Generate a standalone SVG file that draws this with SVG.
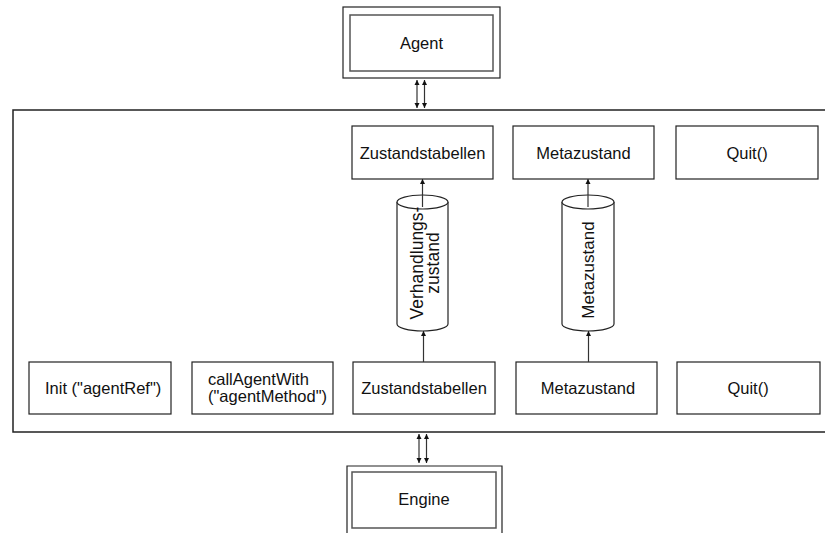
<svg xmlns="http://www.w3.org/2000/svg" width="825" height="533" viewBox="0 0 825 533">
  <defs>
    <marker id="head" viewBox="0 0 10 10" refX="10" refY="5" markerWidth="5" markerHeight="6" orient="auto-start-reverse" markerUnits="userSpaceOnUse">
      <path d="M0,0 L10,5 L0,10 Z" fill="#111"/>
    </marker>
    <style>
      .box { fill: #fff; stroke: #222; stroke-width: 1.2; }
      .inner { fill: #fff; stroke: #555; stroke-width: 1.5; }
      .frame { fill: none; stroke: #222; stroke-width: 1.5; }
      .cyl { fill: #fff; stroke: #222; stroke-width: 1.2; }
      .link { fill: none; stroke: #333; stroke-width: 1.2; }
      .lbl { font-family: "Liberation Sans", Arial, sans-serif; font-size: 16.5px; fill: #111; }
      .mid { text-anchor: middle; }
    </style>
  </defs>
  <rect width="825" height="533" fill="#fff"/>

  <!-- outer frame, open to the right -->
  <path class="frame" d="M826,110 H13 V432 H826"/>

  <g id="agent">
    <rect class="box" x="343" y="7" width="157" height="71"/>
    <rect class="inner" x="350" y="15" width="143" height="56"/>
    <text class="lbl mid" x="421.5" y="49">Agent</text>
  </g>

  <g id="engine">
    <path class="box" d="M347,540 V466 H502 V540"/>
    <rect class="inner" x="352" y="472" width="144" height="56"/>
    <text class="lbl mid" x="424" y="505">Engine</text>
  </g>

  <g id="zustandstabellen-top">
    <rect class="box" x="352" y="126" width="141" height="53"/>
    <text class="lbl mid" x="422.5" y="159">Zustandstabellen</text>
  </g>
  <g id="metazustand-top">
    <rect class="box" x="513" y="126" width="141" height="53"/>
    <text class="lbl mid" x="583.5" y="159">Metazustand</text>
  </g>
  <g id="quit-top">
    <rect class="box" x="676" y="126" width="142" height="53"/>
    <text class="lbl mid" x="747" y="159">Quit()</text>
  </g>

  <g id="verhandlungszustand">
    <path class="cyl" d="M397,202 V324 A25.5,7 0 0 0 448,324 V202"/>
    <ellipse class="cyl" cx="422.5" cy="202" rx="25.5" ry="7"/>
    <text class="lbl mid" style="font-size:17.5px" transform="translate(422,263) rotate(-90)"><tspan x="0" y="1">Verhandlungs-</tspan><tspan x="0" y="16.5">zustand</tspan></text>
  </g>
  <g id="metazustand-store">
    <path class="cyl" d="M562,202 V324 A26,7 0 0 0 614,324 V202"/>
    <ellipse class="cyl" cx="588" cy="202" rx="26" ry="7"/>
    <text class="lbl mid" style="font-size:17px" transform="translate(588,270) rotate(-90)"><tspan x="0" y="5.5">Metazustand</tspan></text>
  </g>

  <g id="init">
    <rect class="box" x="29" y="362" width="142" height="52"/>
    <text class="lbl" x="45" y="394">Init ("agentRef")</text>
  </g>
  <g id="callAgentWith">
    <rect class="box" x="192" y="362" width="141" height="52"/>
    <text class="lbl" x="208"><tspan x="208" y="385">callAgentWith</tspan><tspan x="208" y="402">("agentMethod")</tspan></text>
  </g>
  <g id="zustandstabellen-bottom">
    <rect class="box" x="353" y="362" width="142" height="52"/>
    <text class="lbl mid" x="424" y="394">Zustandstabellen</text>
  </g>
  <g id="metazustand-bottom">
    <rect class="box" x="516" y="362" width="141" height="52"/>
    <text class="lbl mid" x="588" y="394">Metazustand</text>
  </g>
  <g id="quit-bottom">
    <rect class="box" x="677" y="362" width="143" height="52"/>
    <text class="lbl mid" x="748" y="394">Quit()</text>
  </g>

  <g id="connectors">
    <!-- Agent <-> frame -->
    <line class="link" x1="417" y1="80" x2="417" y2="108" marker-start="url(#head)" marker-end="url(#head)"/>
    <line class="link" x1="424.5" y1="80" x2="424.5" y2="108" marker-start="url(#head)" marker-end="url(#head)"/>
    <!-- frame <-> Engine -->
    <line class="link" x1="419" y1="434" x2="419" y2="463" marker-start="url(#head)" marker-end="url(#head)"/>
    <line class="link" x1="426.5" y1="434" x2="426.5" y2="463" marker-start="url(#head)" marker-end="url(#head)"/>
    <!-- state tables -->
    <line class="link" x1="423.5" y1="362" x2="423.5" y2="331" marker-end="url(#head)"/>
    <line class="link" x1="422.5" y1="207" x2="422.5" y2="179" marker-end="url(#head)"/>
    <!-- meta state -->
    <line class="link" x1="588.5" y1="362" x2="588.5" y2="331" marker-end="url(#head)"/>
    <line class="link" x1="588" y1="207" x2="588" y2="179" marker-end="url(#head)"/>
  </g>
</svg>
